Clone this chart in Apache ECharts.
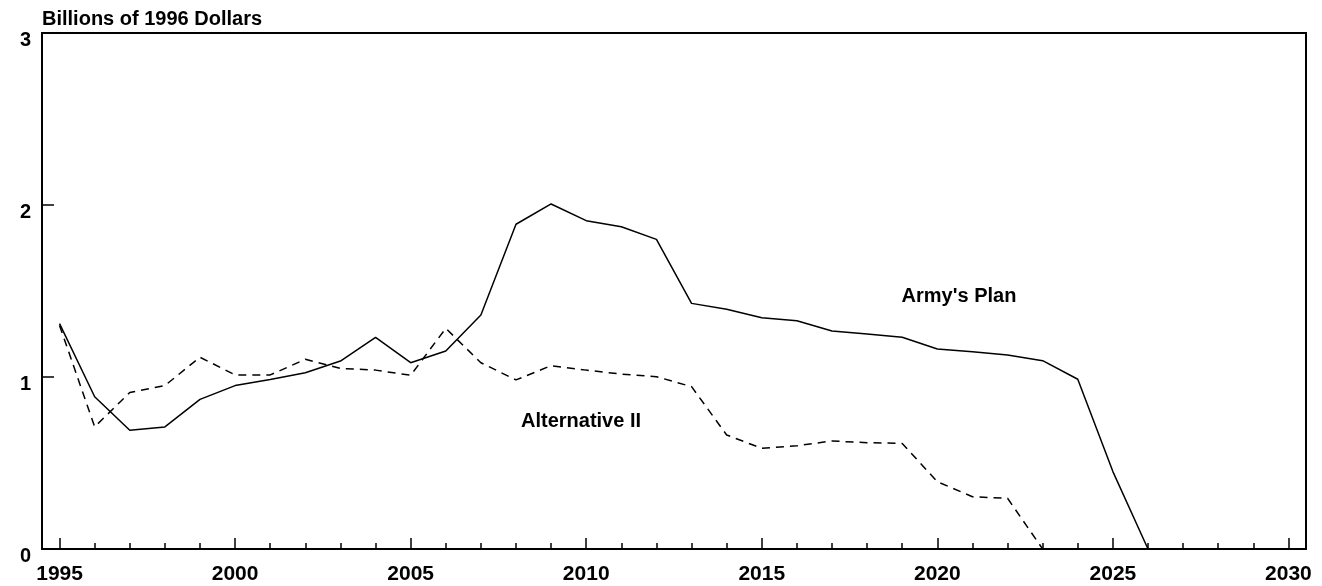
<!DOCTYPE html>
<html>
<head>
<meta charset="utf-8">
<script src="https://cdn.jsdelivr.net/npm/echarts@6/dist/echarts.min.js"></script>
<style>
html,body{margin:0;padding:0;background:#fff;}
#chart{width:1322px;height:586px;}
</style>
</head>
<body>
<div id="chart"></div>
<script>
const years = [1995,1996,1997,1998,1999,2000,2001,2002,2003,2004,2005,2006,2007,2008,2009,2010,2011,2012,2013,2014,2015,2016,2017,2018,2019,2020,2021,2022,2023,2024,2025,2026];
const armyPlan = [1.31,0.885,0.69,0.71,0.87,0.95,0.985,1.025,1.093,1.23,1.083,1.151,1.36,1.888,2.006,1.909,1.874,1.80,1.428,1.394,1.345,1.327,1.267,1.25,1.231,1.163,1.147,1.128,1.095,0.987,0.45,0];
const altYears = [1995,1996,1997,1998,1999,2000,2001,2002,2003,2004,2005,2006,2007,2008,2009,2010,2011,2012,2013,2014,2015,2016,2017,2018,2019,2020,2021,2022,2023];
const alternativeII = [1.30,0.71,0.91,0.95,1.115,1.012,1.012,1.103,1.05,1.04,1.01,1.283,1.083,0.983,1.066,1.04,1.017,1.002,0.944,0.663,0.585,0.60,0.628,0.618,0.614,0.391,0.304,0.295,0];
const majorTicks = [1995,2000,2005,2010,2015,2020,2025,2030];
const minorTicks = [];
for (let y = 1995; y <= 2030; y++) minorTicks.push(y);
const yTicks = [0,1,2,3];
const titleText = 'Billions of 1996 Dollars';
const armyLabel = "Army's Plan";
const altLabel = 'Alternative II';

const FONT = '"Liberation Sans", Arial, sans-serif';
const chart = echarts.init(document.getElementById('chart'));
const zip = (xs, ys) => xs.map((x, i) => [x, ys[i]]);

chart.setOption({
  animation: false,
  backgroundColor: '#fff',
  title: {
    text: titleText, left: 42, top: 9, padding: 0,
    textStyle: { fontFamily: FONT, fontWeight: 'bold', fontSize: 20, color: '#000' }
  },
  grid: { left: 42, right: 16, top: 33, bottom: 37, show: true, borderColor: '#000', borderWidth: 2, containLabel: false },
  xAxis: [
    {
      type: 'value', min: 1994.5, max: 2030.5,
      axisLine: { show: true, lineStyle: { color: '#000', width: 2 } },
      axisTick: { show: true, inside: true, length: 11, customValues: majorTicks, lineStyle: { color: '#000', width: 1.5 } },
      axisLabel: { show: true, customValues: majorTicks, margin: 15, fontFamily: FONT, fontWeight: 'bold', fontSize: 21, color: '#000', formatter: v => String(v) },
      splitLine: { show: false }
    },
    {
      type: 'value', min: 1994.5, max: 2030.5, position: 'bottom',
      axisLine: { show: false },
      axisTick: { show: true, inside: true, length: 6, customValues: minorTicks, lineStyle: { color: '#000', width: 1.5 } },
      axisLabel: { show: false },
      splitLine: { show: false }
    }
  ],
  yAxis: {
    type: 'value', min: 0, max: 3, interval: 1,
    axisLine: { show: true, lineStyle: { color: '#000', width: 2 } },
    axisTick: { show: true, inside: true, length: 12, lineStyle: { color: '#000', width: 1.5 } },
    axisLabel: { margin: 11, fontFamily: FONT, fontWeight: 'bold', fontSize: 20, color: '#000', verticalAlign: 'top', lineHeight: 14 },
    splitLine: { show: false }
  },
  series: [
    {
      type: 'line', name: altLabel, data: zip(altYears, alternativeII), showSymbol: false, symbol: 'none',
      lineStyle: { color: '#000', width: 1.5, type: [8, 6] }, z: 2
    },
    {
      type: 'line', name: armyLabel, data: zip(years, armyPlan), showSymbol: false, symbol: 'none',
      lineStyle: { color: '#000', width: 1.5 }, z: 3
    }
  ],
  graphic: [
    { type: 'text', x: 959, y: 296, style: { text: armyLabel, font: 'bold 20px ' + FONT, fill: '#000', align: 'center', verticalAlign: 'middle' } },
    { type: 'text', x: 581, y: 421, style: { text: altLabel, font: 'bold 20px ' + FONT, fill: '#000', align: 'center', verticalAlign: 'middle' } }
  ]
});
</script>
</body>
</html>
